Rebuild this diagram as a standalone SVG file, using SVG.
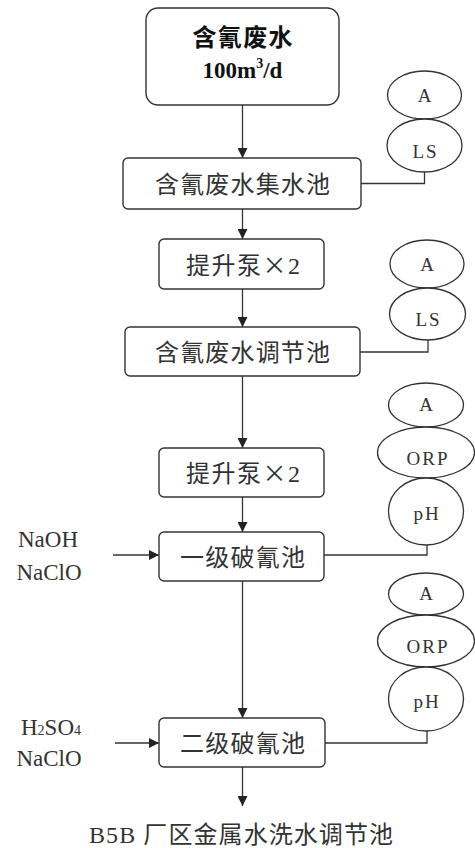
<svg xmlns="http://www.w3.org/2000/svg" width="475" height="848" viewBox="0 0 475 848">
  <style>
    .box { fill: #ffffff; stroke: #333333; stroke-width: 1.4; }
    .inst { fill: #ffffff; stroke: #333333; stroke-width: 1.3; }
    .line { fill: none; stroke: #333333; stroke-width: 1.3; }
    .cn { font-family: "Liberation Serif", "Noto Sans CJK SC", serif; font-size: 24px; fill: #333333; text-anchor: middle; }
    .lat { font-family: "Liberation Serif", serif; font-size: 23px; fill: #333333; text-anchor: middle; }
    .tag { font-family: "Liberation Serif", serif; font-size: 19px; fill: #333333; text-anchor: middle; letter-spacing: 2px; }
    .sym { font-family: "Noto Sans CJK SC", sans-serif; }
    .bold { font-weight: bold; fill: #111111; }
  </style>
  <defs>
    <marker id="arrow" markerUnits="userSpaceOnUse" markerWidth="10" markerHeight="10" refX="10" refY="5" orient="auto">
      <path d="M0,0 L10,5 L0,10 z" fill="#222222"/>
    </marker>
  </defs>

  <!-- flow connectors -->
  <g id="connectors">
    <line class="line" x1="242.5" y1="105" x2="242.5" y2="158" marker-end="url(#arrow)"/>
    <line class="line" x1="242.5" y1="209" x2="242.5" y2="239" marker-end="url(#arrow)"/>
    <line class="line" x1="242.5" y1="289" x2="242.5" y2="327" marker-end="url(#arrow)"/>
    <line class="line" x1="242.5" y1="376" x2="242.5" y2="448" marker-end="url(#arrow)"/>
    <line class="line" x1="242.5" y1="497" x2="242.5" y2="532" marker-end="url(#arrow)"/>
    <line class="line" x1="242.5" y1="581" x2="242.5" y2="718" marker-end="url(#arrow)"/>
    <line class="line" x1="242.5" y1="767" x2="242.5" y2="806" marker-end="url(#arrow)"/>
    <!-- dosing inlets -->
    <line class="line" x1="113" y1="555" x2="159" y2="555" marker-end="url(#arrow)"/>
    <line class="line" x1="115" y1="743" x2="159" y2="743" marker-end="url(#arrow)"/>
    <!-- instrument signal lines -->
    <polyline class="line" points="361,183.5 424.5,183.5 424.5,172"/>
    <polyline class="line" points="360,352 428,352 428,340"/>
    <polyline class="line" points="324,555 427,555 427,545"/>
    <polyline class="line" points="325,743 427,743 427,731"/>
  </g>

  <!-- process units -->
  <g id="source">
    <rect class="box" x="146" y="8" width="193" height="97" rx="12"/>
    <text class="cn bold" x="242.5" y="46" font-size="25" textLength="100">含氰废水</text>
    <text class="lat bold" x="242.5" y="78" font-size="24">100m<tspan font-size="14" dy="-10">3</tspan><tspan dy="10">/d</tspan></text>
  </g>
  <g id="collection-tank">
    <rect class="box" x="123" y="158" width="238" height="51" rx="5"/>
    <text class="cn" x="242.5" y="192.5" textLength="175">含氰废水集水池</text>
  </g>
  <g id="lift-pump-1">
    <rect class="box" x="159" y="239" width="165" height="50" rx="5"/>
    <text class="cn" x="243" y="273.5" textLength="114">提升泵<tspan class="sym">×</tspan>2</text>
  </g>
  <g id="equalization-tank">
    <rect class="box" x="125" y="327" width="235" height="49" rx="5"/>
    <text class="cn" x="242.5" y="360.5" textLength="175">含氰废水调节池</text>
  </g>
  <g id="lift-pump-2">
    <rect class="box" x="159" y="448" width="165" height="49" rx="5"/>
    <text class="cn" x="243" y="481.5" textLength="114">提升泵<tspan class="sym">×</tspan>2</text>
  </g>
  <g id="stage1-tank">
    <rect class="box" x="159" y="532" width="165" height="49" rx="5"/>
    <text class="cn" x="242.5" y="565.5" textLength="125">一级破氰池</text>
  </g>
  <g id="stage2-tank">
    <rect class="box" x="159" y="718" width="166" height="49" rx="5"/>
    <text class="cn" x="242.5" y="751.5" textLength="125">二级破氰池</text>
  </g>
  <g id="outlet">
    <text class="cn" x="241" y="843" font-size="24" textLength="304">B5B 厂区金属水洗水调节池</text>
  </g>

  <!-- reagents -->
  <g id="reagents-1">
    <text class="lat" x="48" y="547">NaOH</text>
    <text class="lat" x="49" y="580">NaClO</text>
  </g>
  <g id="reagents-2">
    <text class="lat" x="51" y="735">H<tspan font-size="14">2</tspan>SO<tspan font-size="14">4</tspan></text>
    <text class="lat" x="49" y="766">NaClO</text>
  </g>

  <!-- instruments -->
  <g id="inst-collection">
    <ellipse class="inst" cx="424.5" cy="95" rx="37" ry="24"/>
    <text class="tag" x="425.5" y="102">A</text>
    <ellipse class="inst" cx="424.5" cy="145.5" rx="37.5" ry="26.5"/>
    <text class="tag" x="425.5" y="158">LS</text>
  </g>
  <g id="inst-equalization">
    <ellipse class="inst" cx="427" cy="264" rx="37" ry="24"/>
    <text class="tag" x="428" y="271">A</text>
    <ellipse class="inst" cx="427.5" cy="314" rx="38" ry="26"/>
    <text class="tag" x="428.5" y="326">LS</text>
  </g>
  <g id="inst-stage1">
    <ellipse class="inst" cx="426" cy="405" rx="37.5" ry="22"/>
    <text class="tag" x="427" y="411">A</text>
    <ellipse class="inst" cx="426" cy="452.5" rx="48.5" ry="25.5"/>
    <text class="tag" x="428" y="465">ORP</text>
    <ellipse class="inst" cx="426" cy="511.5" rx="37.5" ry="33.5"/>
    <text class="tag" x="427" y="520">pH</text>
  </g>
  <g id="inst-stage2">
    <ellipse class="inst" cx="426" cy="594" rx="37.5" ry="21"/>
    <text class="tag" x="427" y="600">A</text>
    <ellipse class="inst" cx="426" cy="641" rx="48.5" ry="26"/>
    <text class="tag" x="428" y="653">ORP</text>
    <ellipse class="inst" cx="426" cy="699" rx="37.5" ry="32"/>
    <text class="tag" x="427" y="708">pH</text>
  </g>
</svg>
